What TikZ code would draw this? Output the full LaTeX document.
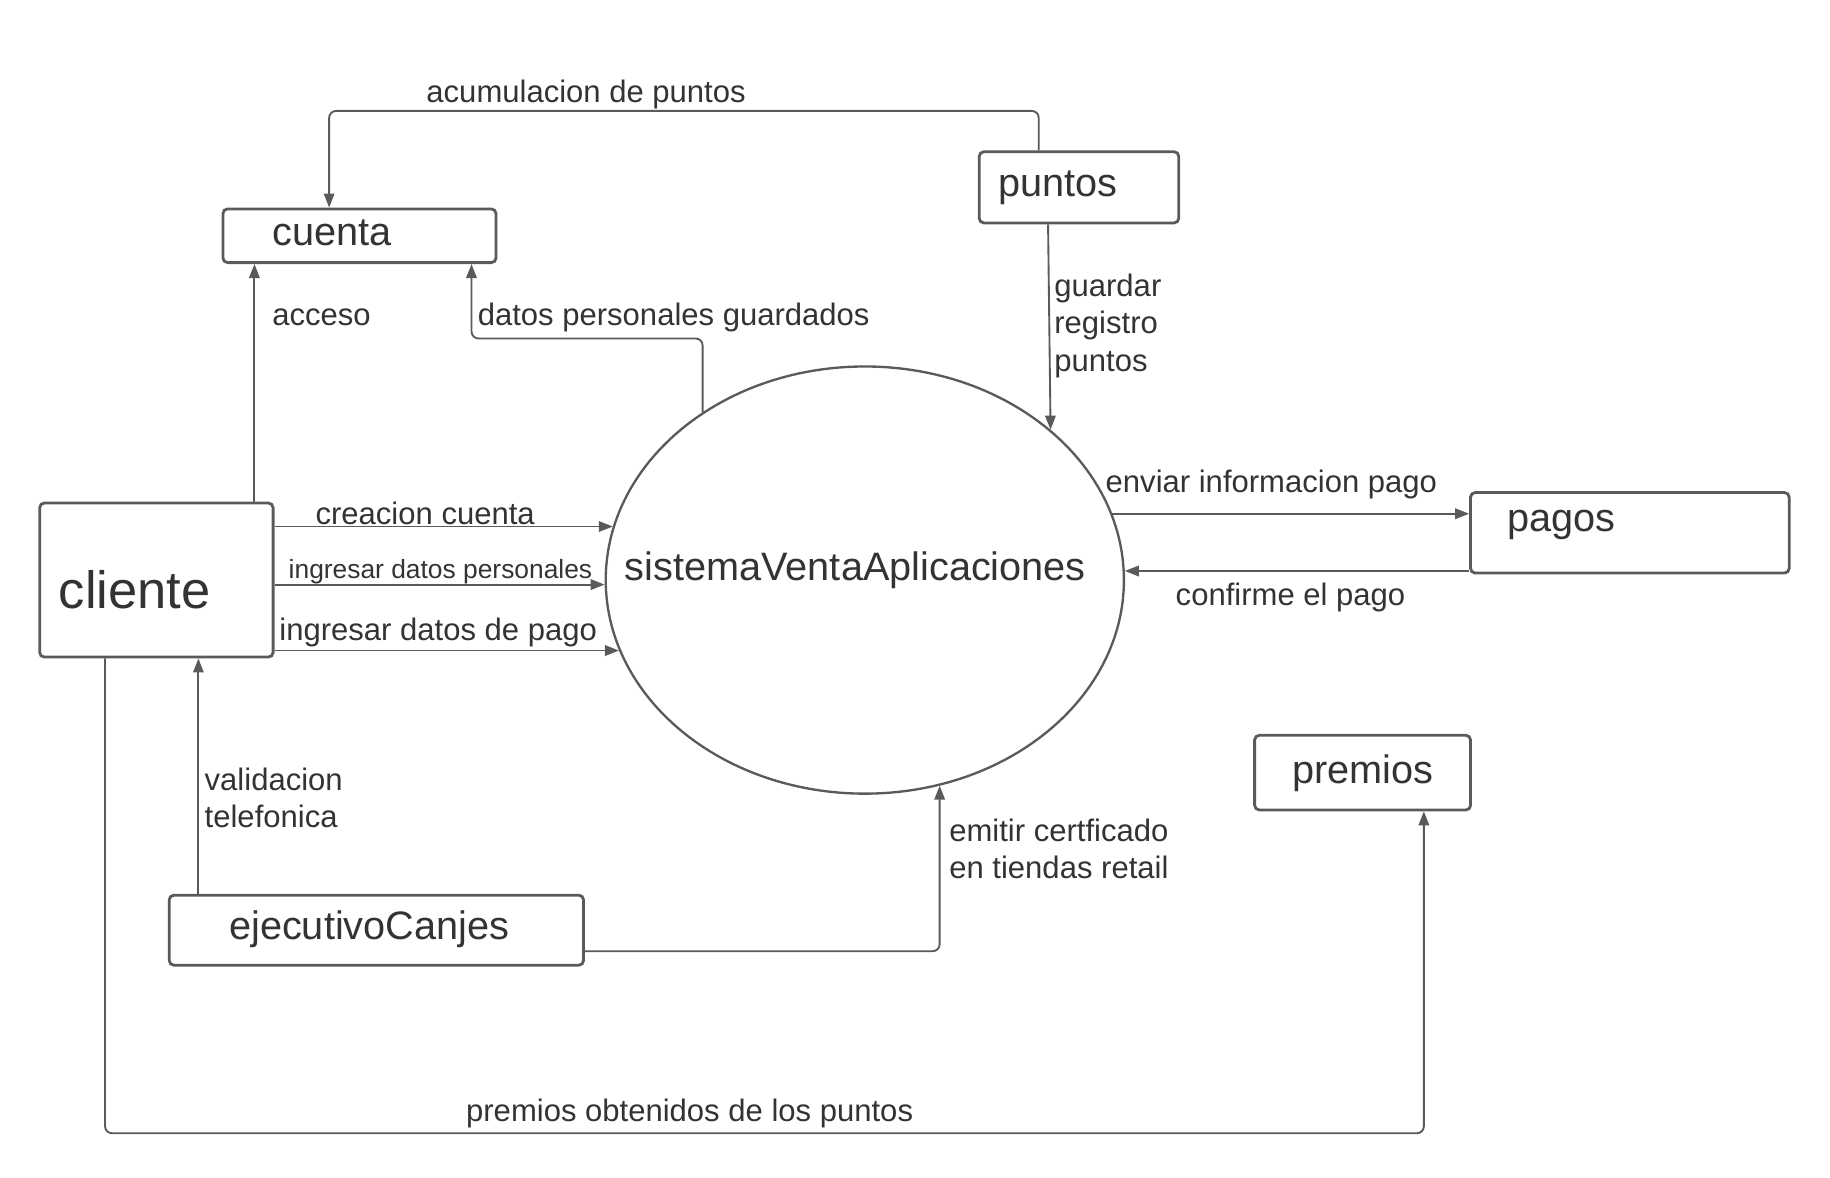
\documentclass[tikz,border=0pt]{standalone}
\usepackage{fontspec}
\setmainfont{Liberation Sans}
\usetikzlibrary{arrows.meta,shapes.geometric,positioning}
\definecolor{LineGray}{HTML}{5A5A5A}
\definecolor{TextGray}{HTML}{333333}

\tikzset{
  box/.style={draw=LineGray, line width=1.2pt, rounded corners=2pt, inner sep=0pt},
  proc/.style={draw=LineGray, line width=1pt, ellipse, inner sep=0pt},
  flow/.style={draw=LineGray, line width=0.8pt, rounded corners=3pt, -{Triangle[length=6pt,width=4.5pt]}},
  ename/.style={text=TextGray, font=\fontsize{17pt}{20pt}\selectfont, anchor=base west, inner sep=0pt},
  lbl/.style={text=TextGray, font=\fontsize{13.3pt}{16pt}\selectfont, anchor=base west, inner sep=0pt, align=left},
}

\begin{document}
\begin{tikzpicture}[x=0.5pt, y=-0.5pt]
    \useasboundingbox (0,0) rectangle (1568,1009);

    % entidades y proceso
    \node[box, minimum width=117pt, minimum height=23pt] (cuenta) at (308,202) {};
    \node[box, minimum width=85.5pt, minimum height=30.5pt] (puntos) at (924.5,160.5) {};
    \node[box, minimum width=100pt, minimum height=66pt] (cliente) at (134,497) {};
    \node[box, minimum width=136.5pt, minimum height=34.5pt] (pagos) at (1396.5,456.5) {};
    \node[box, minimum width=92.5pt, minimum height=32pt] (premios) at (1167.5,662) {};
    \node[box, minimum width=177.5pt, minimum height=30pt] (ejecutivo) at (322.5,797) {};
    \node[proc, minimum width=222pt, minimum height=183pt] (sistema) at (741,497) {};

    \node[ename] (cuentaT) at (233,210) {cuenta};
    \node[ename] (puntosT) at (855,168) {puntos};
    \node[ename, font=\fontsize{22.5pt}{26pt}\selectfont] (clienteT) at (50,521) {cliente};
    \node[ename] (pagosT) at (1291,455) {pagos};
    \node[ename] (premiosT) at (1107,671) {premios};
    \node[ename] (ejecutivoT) at (196,805) {ejecutivoCanjes};
    \node[ename] (sistemaT) at (535,497) {sistemaVentaAplicaciones};

    % flujos
    \draw[flow] (puntos.north -| 890,0) |- (282,95) -- (cuenta.north -| 282,0);
    \draw[flow] (cliente.north -| 218,0) -- (cuenta.south -| 218,0);
    \draw[flow] (sistema.134) |- (404,290) -- (cuenta.south -| 404,0);
    \draw[flow] (puntos.south -| 898,0) -- (sistema.39.5);
    \draw[flow] (cliente.east |- sistema.168.2) -- (sistema.168.2);
    \draw[flow] (cliente.east |- sistema.181.8) -- (sistema.181.8);
    \draw[flow] (cliente.east |- sistema.196) -- (sistema.196);
    \draw[flow] (sistema.15.1) -- (pagos.west |- sistema.15.1);
    \draw[flow] (pagos.west |- sistema.2.3) -- (sistema.2.3);
    \draw[flow] (ejecutivo.north -| 170,0) -- (cliente.south -| 170,0);
    \draw[flow] (ejecutivo.east |- 0,815) -| (sistema.-70.25);
    \draw[flow] (cliente.south -| 90,0) -- (90,971) -| (premios.south -| 1220,0);

    % etiquetas
    \node[lbl] (lAcum) at (365,88) {acumulacion de puntos};
    \node[lbl] (lAcceso) at (233,279) {acceso};
    \node[lbl] (lDatos) at (409,279) {datos personales guardados};
    \node[lbl] (lGuardar) at (903,318) {guardar\\registro\\puntos};
    \node[lbl] (lCreacion) at (270,449) {creacion cuenta};
    \node[lbl, font=\fontsize{11.3pt}{14pt}\selectfont] (lPersonales) at (247,496) {ingresar datos personales};
    \node[lbl] (lPago) at (239,549) {ingresar datos de pago};
    \node[lbl] (lEnviar) at (947,422) {enviar informacion pago};
    \node[lbl] (lConfirme) at (1007,519) {confirme el pago};
    \node[lbl] (lValidacion) at (175,709) {validacion\\telefonica};
    \node[lbl] (lEmitir) at (813,753) {emitir certficado\\en tiendas retail};
    \node[lbl] (lPremios) at (399,961) {premios obtenidos de los puntos};
\end{tikzpicture}
\end{document}
